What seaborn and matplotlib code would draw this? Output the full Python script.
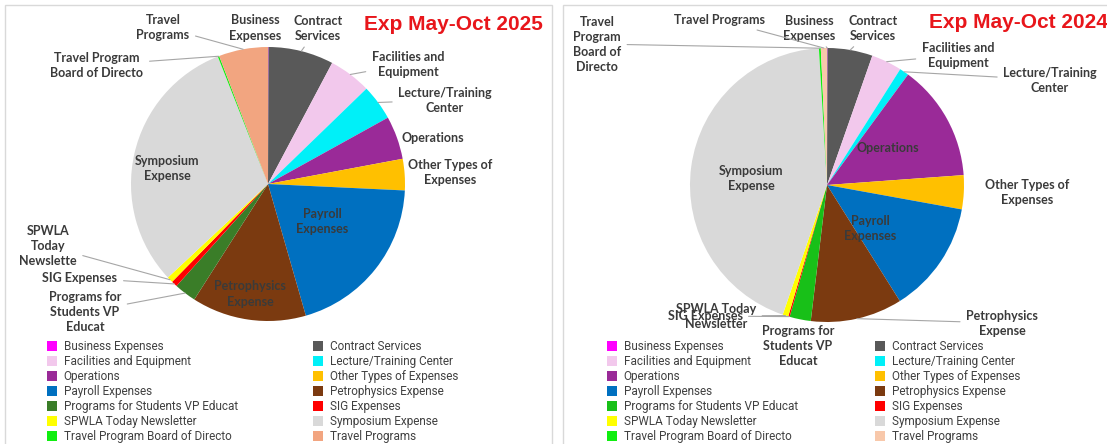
import matplotlib
matplotlib.use("Agg")
import matplotlib.pyplot as plt
import numpy as np
import seaborn as sns
from matplotlib.lines import Line2D
from matplotlib.patches import Rectangle

# ── Data ──────────────────────────────────────────────────────────
categories = [
    "Business Expenses", "Contract Services", "Facilities and Equipment",
    "Lecture/Training Center", "Operations", "Other Types of Expenses",
    "Payroll Expenses", "Petrophysics Expense", "Programs for Students VP Educat",
    "SIG Expenses", "SPWLA Today Newsletter", "Symposium Expense",
    "Travel Program Board of Directo", "Travel Programs",
]

# share of expenses (%)
share_2025 = [0.06, 7.7, 5.0, 4.2, 5.1, 3.7, 19.8, 13.5, 2.6, 0.7, 0.7, 31.0, 0.17, 5.8]
share_2024 = [0.06, 5.3, 3.6, 1.1, 13.75, 4.0, 13.2, 10.8, 2.5, 0.17, 0.67, 43.75, 0.22, 0.72]

labels_2025 = [
    "Business\nExpenses", "Contract\nServices", "Facilities and\nEquipment",
    "Lecture/Training\nCenter", "Operations", "Other Types of\nExpenses",
    "Payroll\nExpenses", "Petrophysics\nExpense", "Programs for\nStudents VP\nEducat",
    "SIG Expenses", "SPWLA\nToday\nNewslette", "Symposium\nExpense",
    "Travel Program\nBoard of Directo", "Travel\nPrograms",
]
labels_2024 = [
    "Business\nExpenses", "Contract\nServices", "Facilities and\nEquipment",
    "Lecture/Training\nCenter", "Operations", "Other Types of\nExpenses",
    "Payroll\nExpenses", "Petrophysics\nExpense", "Programs for\nStudents VP\nEducat",
    "SIG Expenses", "SPWLA Today\nNewsletter", "Symposium\nExpense",
    "Travel\nProgram\nBoard of\nDirecto", "Travel Programs",
]

colors_2025 = [
    "#FF00FF", "#595959", "#F2C8EC", "#00F0F8", "#9A2A98", "#FFC000", "#0070C0",
    "#7B3A10", "#3A7D28", "#FF0000", "#FFFF00", "#D9D9D9", "#10EE10", "#F2A580",
]
colors_2024 = [
    "#FF00FF", "#595959", "#F2C8EC", "#00F0F8", "#9A2A98", "#FFC000", "#0070C0",
    "#7B3A10", "#18C018", "#FF0000", "#FFFF00", "#D9D9D9", "#10EE10", "#F8C8AA",
]

# ── Layout (figure pixels, y from the top) ───────────────────────
W, H = 1107, 444
panels = [
    dict(
        title="Exp May-Oct 2025", title_xy=(453, 24),
        values=share_2025, labels=labels_2025, colors=colors_2025,
        center=(268, 184), radius=137,
        frame=(5, 5, 547, 460),
        legend_x=(46, 312), legend_y=340,
        label_xy={
            0: (255, 28), 1: (318, 28), 2: (408, 64), 3: (445, 100),
            4: (433, 138), 5: (450, 172), 6: (322, 221), 7: (250, 294),
            8: (85, 312), 9: (80, 278), 10: (48, 246), 11: (167, 168),
            12: (97, 65), 13: (163, 27),
        },
        leaders=[1, 2, 3, 8, 9, 10, 12, 13],
    ),
    dict(
        title="Exp May-Oct 2024", title_xy=(1018, 22),
        values=share_2024, labels=labels_2024, colors=colors_2024,
        center=(827, 185), radius=137,
        frame=(563, 5, 560, 460),
        legend_x=(606, 874), legend_y=340,
        label_xy={
            0: (809, 28), 1: (873, 28), 2: (958, 55), 3: (1050, 80),
            4: (888, 148), 5: (1027, 192), 6: (870, 228), 7: (1002, 323),
            8: (798, 346), 9: (705, 316), 10: (716, 316), 11: (751, 178),
            12: (597, 44), 13: (720, 20),
        },
        leaders=[0, 1, 2, 3, 7, 9, 10, 12, 13],
    ),
]

sns.set_theme(style="white")
plt.rcParams["font.family"] = ["Lato", "DejaVu Sans"]

fig = plt.figure(figsize=(W / 100, H / 100), dpi=100)
fig.patch.set_facecolor("white")

LABEL_COLOR = "#3A3A3A"
LEADER_COLOR = "#A6A6A6"
LABEL_SIZE = 9

for p in panels:
    # panel frame
    fx, fy, fw, fh = p["frame"]
    fig.patches.append(Rectangle((fx / W, 1 - (fy + fh) / H), fw / W, fh / H,
                                 transform=fig.transFigure, facecolor="none",
                                 edgecolor="#D9D9D9", linewidth=1.0))

    cx, cy = p["center"]
    r = p["radius"]
    ax = fig.add_axes([(cx - r) / W, (H - cy - r) / H, 2 * r / W, 2 * r / H])
    ax.pie(p["values"], colors=p["colors"], startangle=90, counterclock=False,
           radius=1, wedgeprops=dict(linewidth=0))
    ax.set_xlim(-1, 1)
    ax.set_ylim(-1, 1)
    ax.axis("off")

    vals = np.array(p["values"], dtype=float)
    cum = np.cumsum(vals) - vals / 2
    mid_ang = np.deg2rad(90 - cum / vals.sum() * 360)

    for i, lab in enumerate(p["labels"]):
        px, py = p["label_xy"][i]
        if i in p["leaders"]:
            ax.annotate(lab, xy=(np.cos(mid_ang[i]), np.sin(mid_ang[i])),
                        xytext=(px, H - py), textcoords="figure pixels",
                        ha="center", va="center", fontsize=LABEL_SIZE,
                        fontweight="bold", color=LABEL_COLOR, linespacing=1.3,
                        annotation_clip=False,
                        arrowprops=dict(arrowstyle="-", color=LEADER_COLOR, lw=0.8,
                                        shrinkA=2, shrinkB=0))
        else:
            fig.text(px / W, 1 - py / H, lab, ha="center", va="center",
                     fontsize=LABEL_SIZE, fontweight="bold", color=LABEL_COLOR,
                     linespacing=1.3)

    tx, ty = p["title_xy"]
    fig.text(tx / W, 1 - ty / H, p["title"], ha="center", va="center",
             fontsize=15, fontweight="bold", color="#E8161B",
             family=["Liberation Sans", "DejaVu Sans"])

    # two-column legend laid out row by row
    handles = [Line2D([], [], marker="s", linestyle="", markersize=6.5,
                      markerfacecolor=c, markeredgewidth=0) for c in p["colors"]]
    for col, lx in enumerate(p["legend_x"]):
        idx = list(range(col, len(categories), 2))
        fig.legend([handles[k] for k in idx], [categories[k] for k in idx],
                   loc="upper left", bbox_to_anchor=(lx / W, 1 - p["legend_y"] / H),
                   frameon=False, labelcolor="#404040",
                   handlelength=1.0, handletextpad=0.5, labelspacing=0.17,
                   borderpad=0, borderaxespad=0,
                   prop=dict(family=["Roboto", "DejaVu Sans"], size=8.5))

fig.savefig("out.png", dpi=100)
